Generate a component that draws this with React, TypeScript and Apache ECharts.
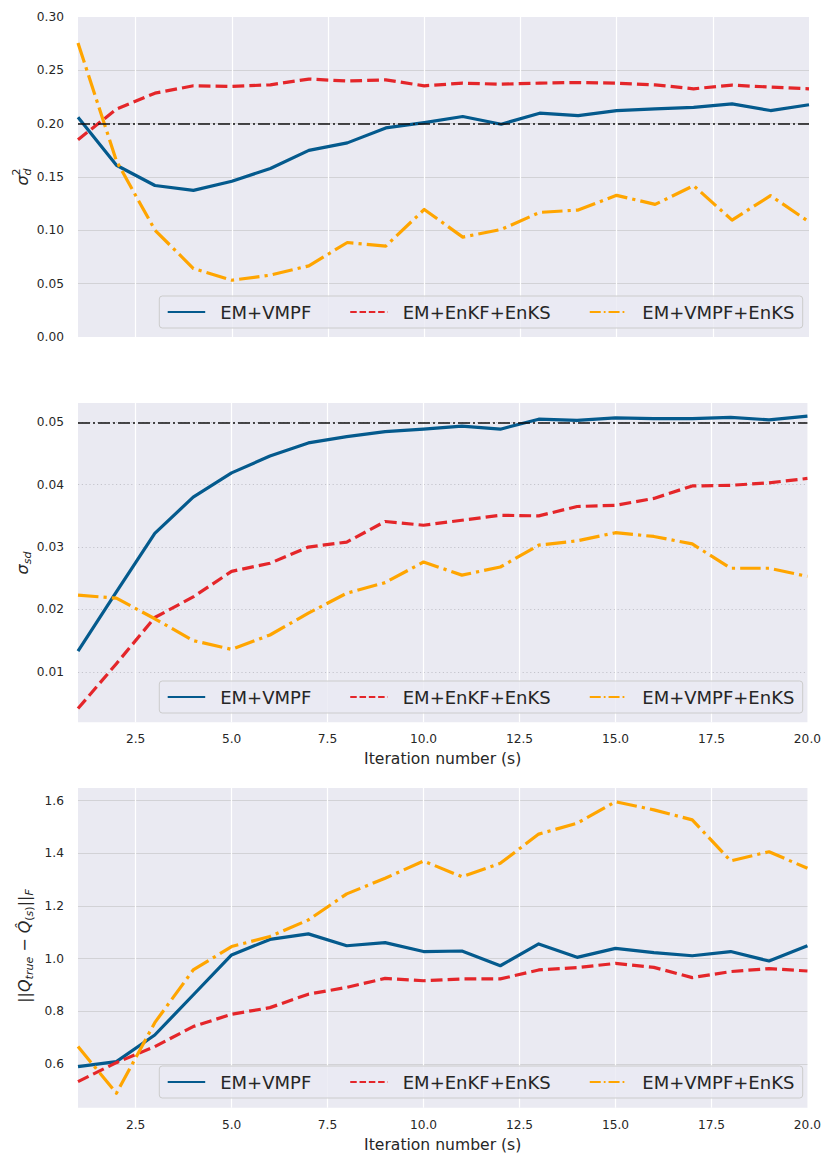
import React, { useEffect, useRef } from "react";
import * as echarts from "echarts";

// ---------- data ----------
const iterations = [1, 2, 3, 4, 5, 6, 7, 8, 9, 10, 11, 12, 13, 14, 15, 16, 17, 18, 19, 20];
const seriesNames = ["EM+VMPF", "EM+EnKF+EnKS", "EM+VMPF+EnKS"];

// panel 1: sigma_d^2
const sigmaD_VMPF = [0.206, 0.161, 0.142, 0.1375, 0.146, 0.158, 0.175, 0.182, 0.196, 0.201, 0.2067, 0.1995, 0.2098, 0.2076, 0.2123, 0.2139, 0.2152, 0.2186, 0.2123, 0.2177];
const sigmaD_EnKF = [0.185, 0.2136, 0.2286, 0.2355, 0.2349, 0.2364, 0.2418, 0.240, 0.2411, 0.2355, 0.238, 0.237, 0.238, 0.2386, 0.238, 0.2364, 0.2327, 0.2361, 0.2343, 0.2327];
const sigmaD_VMPFEnKS = [0.2756, 0.165, 0.1002, 0.0642, 0.0532, 0.058, 0.0667, 0.0886, 0.0852, 0.1196, 0.0936, 0.1008, 0.1168, 0.119, 0.1328, 0.1243, 0.1419, 0.1096, 0.1325, 0.108];
const TRUE_SIGMA_D = 0.2;

// panel 2: sigma_sd
const sigmaSD_VMPF = [0.0133, 0.0228, 0.0322, 0.038, 0.0419, 0.0446, 0.0467, 0.0477, 0.0485, 0.0489, 0.0494, 0.0489, 0.0505, 0.0503, 0.0507, 0.0506, 0.0506, 0.0508, 0.0504, 0.051];
const sigmaSD_EnKF = [0.0041, 0.0113, 0.0187, 0.022, 0.0261, 0.0274, 0.03, 0.0308, 0.0341, 0.0335, 0.0343, 0.0351, 0.035, 0.0365, 0.0367, 0.0378, 0.0398, 0.0399, 0.0403, 0.041];
const sigmaSD_VMPFEnKS = [0.0223, 0.0218, 0.0185, 0.015, 0.0136, 0.0159, 0.0194, 0.0226, 0.0243, 0.0276, 0.0255, 0.0268, 0.0303, 0.031, 0.0323, 0.0317, 0.0305, 0.0266, 0.0266, 0.0253];
const TRUE_SIGMA_SD = 0.05;

// panel 3: ||Q_true - Q_hat||_F
const qErr_VMPF = [0.59, 0.609, 0.71, 0.862, 1.014, 1.073, 1.094, 1.049, 1.061, 1.027, 1.029, 0.973, 1.056, 1.005, 1.039, 1.023, 1.011, 1.027, 0.991, 1.049];
const qErr_EnKF = [0.533, 0.605, 0.666, 0.742, 0.789, 0.814, 0.865, 0.891, 0.925, 0.916, 0.923, 0.923, 0.957, 0.966, 0.982, 0.967, 0.928, 0.951, 0.962, 0.953];
const qErr_VMPFEnKS = [0.666, 0.489, 0.757, 0.957, 1.046, 1.084, 1.147, 1.246, 1.305, 1.371, 1.311, 1.362, 1.473, 1.514, 1.596, 1.565, 1.527, 1.371, 1.406, 1.343];

// ticks
const xLabelTicks = [2.5, 5, 7.5, 10, 12.5, 15, 17.5, 20];
const xGridTicks = [2.5, 5, 7.5, 10, 12.5, 15, 17.5];
const y1Labels = [0, 0.05, 0.1, 0.15, 0.2, 0.25, 0.3];
const y1Grid = [0.05, 0.1, 0.15, 0.2, 0.25];
const y2Labels = [0.01, 0.02, 0.03, 0.04, 0.05];
const y3Labels = [0.6, 0.8, 1.0, 1.2, 1.4, 1.6];

// ---------- styling ----------
const FONT = "'DejaVu Sans', sans-serif";
const TEXT = "#262626";
const BG = "#eaeaf2";
const COLORS = ["#045a8d", "#e4262a", "#ffa500"];
const LW = 3.2;
const DASHES: any[] = ["solid", [11.8, 5.1], [20.5, 5.1, 3.2, 5.1]];
const LEGEND_DASHES: any[] = ["solid", [6.5, 2.8], [11, 3, 1.8, 3]];

const panels = [
  { top: 17, height: 320, min: 0, max: 0.3, labels: y1Labels, grid: y1Grid, dec: 2, dotted: false, xLabels: false, data: [sigmaD_VMPF, sigmaD_EnKF, sigmaD_VMPFEnKS], truth: TRUE_SIGMA_D, legendTop: 296 },
  { top: 403, height: 319.3, min: 0.0019, max: 0.0531, labels: y2Labels, grid: y2Labels, dec: 2, dotted: true, xLabels: true, data: [sigmaSD_VMPF, sigmaSD_EnKF, sigmaSD_VMPFEnKS], truth: TRUE_SIGMA_SD, legendTop: 681 },
  { top: 788, height: 319.7, min: 0.434, max: 1.648, labels: y3Labels, grid: y3Labels, dec: 1, dotted: false, xLabels: true, data: [qErr_VMPF, qErr_EnKF, qErr_VMPFEnKS], truth: null as number | null, legendTop: 1066 },
];

export default function App() {
  const ref = useRef<HTMLDivElement>(null);
  useEffect(() => {
    if (!ref.current) return;
    const chart = echarts.init(ref.current, undefined, { renderer: "svg" });

    const grids = panels.map((p) => ({
      left: 78,
      width: 731,
      top: p.top,
      height: p.height,
      show: true,
      backgroundColor: BG,
      borderWidth: 0,
    }));

    const xAxes = panels.map((p, i) => ({
      type: "value",
      gridIndex: i,
      min: 1,
      max: 20,
      axisLine: { show: false },
      axisTick: { show: false, customValues: xGridTicks },
      axisLabel: {
        show: p.xLabels,
        customValues: xLabelTicks,
        formatter: (v: number) => v.toFixed(1),
        color: TEXT,
        fontFamily: FONT,
        fontSize: 12.2,
        margin: 11,
      },
      splitLine: { show: true, lineStyle: { color: "#ffffff", width: 1.25 } },
      name: p.xLabels ? "Iteration number (s)" : "",
      nameLocation: "middle",
      nameGap: 29,
      nameTextStyle: { color: TEXT, fontFamily: FONT, fontSize: 15.6 },
    }));

    const yAxes = panels.map((p, i) => ({
      type: "value",
      gridIndex: i,
      min: p.min,
      max: p.max,
      axisLine: { show: false },
      axisTick: { show: false, customValues: p.grid },
      axisLabel: {
        customValues: p.labels,
        formatter: (v: number) => v.toFixed(p.dec),
        color: TEXT,
        fontFamily: FONT,
        fontSize: 12.2,
        margin: 14,
      },
      splitLine: {
        show: true,
        lineStyle: p.dotted
          ? { color: "#c4c4cc", width: 1, type: [1.2, 2.6] }
          : { color: "#d2d2d6", width: 1.2 },
      },
    }));

    const series: any[] = [];
    panels.forEach((p, gi) => {
      p.data.forEach((arr, si) => {
        const s: any = {
          name: seriesNames[si],
          type: "line",
          xAxisIndex: gi,
          yAxisIndex: gi,
          data: iterations.map((x, k) => [x, arr[k]]),
          showSymbol: false,
          symbol: "none",
          lineStyle: { color: COLORS[si], width: LW, type: DASHES[si], cap: "butt", join: "round" },
          itemStyle: { color: COLORS[si] },
          z: 2 + si,
        };
        if (si === 2 && p.truth !== null) {
          s.markLine = {
            silent: true,
            symbol: ["none", "none"],
            label: { show: false },
            lineStyle: { color: "#111111", width: 1.5, type: [12, 3, 2, 3] },
            data: [{ yAxis: p.truth }],
            z: 10,
          };
        }
        series.push(s);
      });
    });

    const legends = panels.map((p) => ({
      left: 159.3,
      top: p.legendTop,
      orient: "horizontal",
      selectedMode: false,
      data: seriesNames.map((n, si) => ({
        name: n,
        lineStyle: { type: LEGEND_DASHES[si], width: 2 },
        itemStyle: { color: "rgba(0,0,0,0)", borderColor: "rgba(0,0,0,0)", borderWidth: 0 },
      })),
      itemStyle: { color: "rgba(0,0,0,0)", borderColor: "rgba(0,0,0,0)", borderWidth: 0 },
      itemWidth: 37.5,
      itemHeight: 14,
      itemGap: 38,
      padding: [5, 8.3, 5, 7.4],
      backgroundColor: "rgba(234,234,242,0.8)",
      borderColor: "#cccccc",
      borderWidth: 1,
      borderRadius: 3,
      textStyle: { fontSize: 18, color: TEXT, fontFamily: FONT, lineHeight: 22, padding: [0, 0, 0, 10] },
    }));

    const rich = {
      m: { fontSize: 16, fontStyle: "italic", fontFamily: FONT, color: TEXT, lineHeight: 22 },
      r: { fontSize: 16, fontFamily: FONT, color: TEXT, lineHeight: 22 },
      s: { fontSize: 11, fontStyle: "italic", fontFamily: FONT, color: TEXT, lineHeight: 11, verticalAlign: "bottom" },
      su: { fontSize: 11, fontFamily: FONT, color: TEXT, lineHeight: 11, verticalAlign: "bottom" },
    };

    const graphic: any[] = [
      {
        type: "group",
        x: 22,
        y: 177,
        rotation: Math.PI / 2,
        children: [
          { type: "text", x: -8.5, y: 0, style: { text: "σ", font: `italic 16px ${FONT}`, fill: TEXT, align: "left", verticalAlign: "middle" } },
          { type: "text", x: 1.5, y: -5.5, style: { text: "2", font: `11px ${FONT}`, fill: TEXT, align: "left", verticalAlign: "middle" } },
          { type: "text", x: 1.5, y: 5, style: { text: "d", font: `italic 11px ${FONT}`, fill: TEXT, align: "left", verticalAlign: "middle" } },
        ],
      },
      {
        type: "text",
        x: 22,
        y: 563,
        rotation: Math.PI / 2,
        style: { text: "{m|σ}{s|sd}", rich, align: "center", verticalAlign: "middle", fill: TEXT },
      },
      {
        type: "text",
        x: 24,
        y: 946,
        rotation: Math.PI / 2,
        style: {
          text: "{r|||}{m|Q}{s|true}{r| − }{m|Q\u0302}{su|(}{s|s}{su|)}{r|||}{s|F}",
          rich,
          align: "center",
          verticalAlign: "middle",
          fill: TEXT,
        },
      },
    ];

    chart.setOption({
      animation: false,
      backgroundColor: "#ffffff",
      grid: grids,
      xAxis: xAxes,
      yAxis: yAxes,
      legend: legends,
      series,
      graphic,
    });
    return () => chart.dispose();
  }, []);

  return (
    <div
      ref={ref}
      style={{ position: "absolute", left: 0, top: 0, width: 824, height: 1155 }}
    />
  );
}
